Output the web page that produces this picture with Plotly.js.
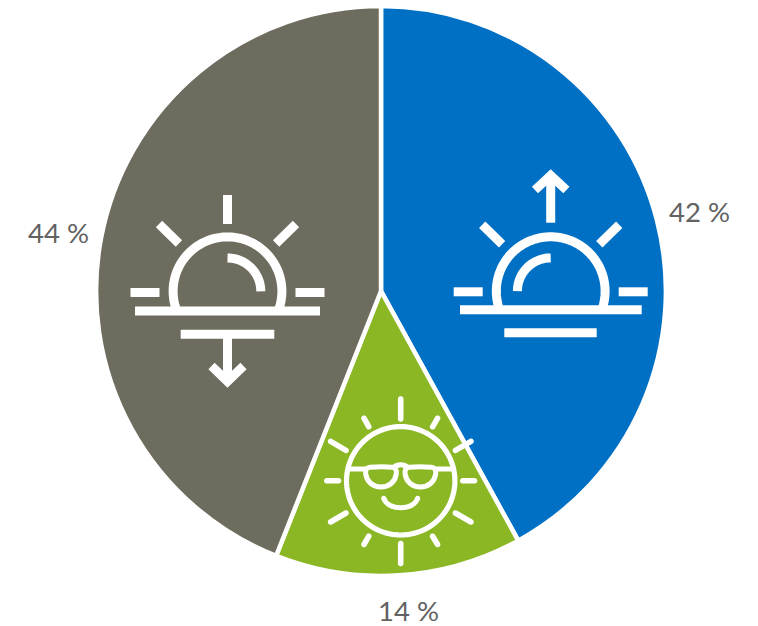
<!DOCTYPE html>
<html>
<head>
<meta charset="utf-8">
<script src="https://cdn.plot.ly/plotly-3.0.1.min.js"></script>
<style>html,body{margin:0;padding:0;background:#fff}#chart{width:758px;height:626px}</style>
</head>
<body>
<div id="chart"></div>
<script>
// Slice shares, clockwise from twelve o'clock
const categories = ['Sunrise', 'Midday', 'Sunset'];
const shares = [42, 14, 44];
const sliceColors = ['#0070C4', '#8AB723', '#6E6C5E'];
const labelCentres = [[699, 212], [408, 610], [58.5, 232.5]];

const W = 758, H = 626;
const CX = 381, CY = 291, R = 284.9;
const WHITE = '#ffffff';

// Pixel position to paper fractions
const px = x => (x / W).toFixed(5);
const py = y => (1 - y / H).toFixed(5);
const pt = ([x, y]) => px(x) + ',' + py(y);

const stroke = (d, width) => ({
  type: 'path', xref: 'paper', yref: 'paper', layer: 'above', path: d,
  line: { color: WHITE, width: width }, fillcolor: 'rgba(0,0,0,0)'
});
const polyline = (pts, width) => stroke('M' + pts.map(pt).join('L'), width);

function arcPoints(cx, cy, r, fromDeg, toDeg) {
  const pts = [], n = Math.max(12, Math.round(Math.abs(toDeg - fromDeg) / 3));
  for (let i = 0; i <= n; i++) {
    const a = (fromDeg + (toDeg - fromDeg) * i / n) * Math.PI / 180;
    pts.push([cx + r * Math.cos(a), cy + r * Math.sin(a)]);
  }
  return pts;
}

// Filled bar with semicircular ends, for the rays of the smiling sun
function capsule(x1, y1, x2, y2, w) {
  const base = Math.atan2(y2 - y1, x2 - x1) * 180 / Math.PI;
  const pts = arcPoints(x2, y2, w / 2, base - 90, base + 90)
    .concat(arcPoints(x1, y1, w / 2, base + 90, base + 270));
  return {
    type: 'path', xref: 'paper', yref: 'paper', layer: 'above',
    path: 'M' + pts.map(pt).join('L') + 'Z',
    line: { width: 0 }, fillcolor: WHITE
  };
}

// Half-sun over a horizon; the arrow is added per icon
const T = 9;
function horizonIcon(o) {
  const s = [];
  const seg = (a, b) => s.push(polyline([a, b], T));
  seg([o.cx - 68.5, o.diagTop], [o.cx - 48.6, o.diagTop + 19.5]);
  seg([o.cx + 68.5, o.diagTop], [o.cx + 48.6, o.diagTop + 19.5]);
  seg([o.cx - 97, o.sideY], [o.cx - 68, o.sideY]);
  seg([o.cx + 68, o.sideY], [o.cx + 97, o.sideY]);
  seg([o.baseL, o.baseY], [o.baseR, o.baseY]);
  seg([o.barL, o.barY], [o.barR, o.barY]);
  s.push(polyline(arcPoints(o.cx, o.domeY, 54.4, 160, 380), T));
  s.push(polyline(arcPoints(o.cx, o.domeY, 33.3, o.hiFrom, o.hiTo), T));
  return s;
}

const sunsetIcon = horizonIcon({
  cx: 227.5, diagTop: 224, sideY: 292.5, baseL: 135, baseR: 320, baseY: 311,
  barL: 180.7, barR: 274.3, barY: 334.3, domeY: 291.3, hiFrom: -90, hiTo: 0
});
sunsetIcon.push(polyline([[227.5, 195], [227.5, 224]], T));
sunsetIcon.push(polyline([[227.5, 338], [227.5, 380]], T));
sunsetIcon.push(polyline([[211.5, 366], [227.5, 381.5], [243.5, 366]], T));

const sunriseIcon = horizonIcon({
  cx: 550.7, diagTop: 224.7, sideY: 291.8, baseL: 460, baseR: 641.7, baseY: 309.7,
  barL: 504.3, barR: 596.7, barY: 332.7, domeY: 291.2, hiFrom: -180, hiTo: -90
});
sunriseIcon.push(polyline([[550.7, 176], [550.7, 222.7]], T));
sunriseIcon.push(polyline([[535, 190], [550.7, 175.5], [566.4, 190]], T));

// Smiling sun wearing glasses
const SX = 400.7, SY = 480.8;
const rays = [
  [SX, 399, SX, 419], [SX, 543.5, SX, 563.5],
  [326.8, SY, 338.5, SY], [462.8, SY, 474.5, SY],
  [330.6, 441.3, 346, 450.4], [471, 441.3, 455.4, 450.4],
  [330.6, 522, 346, 513], [471, 522, 455.4, 513],
  [364, 418.2, 368.8, 426.8], [437.6, 418.2, 432.6, 426.8],
  [364, 544.5, 368.8, 536.2], [437.6, 544.5, 432.6, 536.2]
];
const lens = mirrored => {
  const c = (a, b) => pt([mirrored ? 2 * SX - a : a, b]);
  return stroke('M' + c(370, 467.3) +
    'C' + c(378, 466.5) + ' ' + c(386, 466.5) + ' ' + c(392, 467.3) +
    'C' + c(396, 467.8) + ' ' + c(396.8, 471) + ' ' + c(396.3, 474) +
    'C' + c(395, 482) + ' ' + c(389, 487) + ' ' + c(381, 487) +
    'C' + c(373, 487) + ' ' + c(367, 482) + ' ' + c(365.7, 474) +
    'C' + c(365.2, 471) + ' ' + c(366, 467.8) + ' ' + c(370, 467.3) + 'Z', 5);
};
const coolSunIcon = [
  polyline(arcPoints(SX, SY, 54.2, 0, 360), 5.2),
  ...rays.map(r => capsule(r[0], r[1], r[2], r[3], 5.6)),
  polyline([[348, 469], [366, 469]], 5),
  polyline([[435.4, 469], [453.4, 469]], 5),
  lens(false), lens(true),
  stroke('M' + pt([393, 468]) + 'C' + pt([397, 463.5]) + ' ' + pt([404.4, 463.5]) + ' ' + pt([408.4, 468]), 5),
  stroke('M' + pt([383.7, 498.3]) + 'C' + pt([388, 511]) + ' ' + pt([413.4, 511]) + ' ' + pt([417.7, 498.3]), 5),
  capsule(383.7, 498.3, 383.8, 498.3, 5),
  capsule(417.6, 498.3, 417.7, 498.3, 5)
];

const trace = {
  type: 'pie',
  labels: categories,
  values: shares,
  sort: false,
  direction: 'clockwise',
  rotation: 0,
  textinfo: 'none',
  hoverinfo: 'none',
  marker: { colors: sliceColors, line: { color: WHITE, width: 4.5 } },
  domain: { x: [(CX - R) / W, (CX + R) / W], y: [1 - (CY + R) / H, 1 - (CY - R) / H] }
};

const layout = {
  width: W, height: H,
  margin: { l: 0, r: 0, t: 0, b: 0 },
  paper_bgcolor: WHITE,
  showlegend: false,
  shapes: [...sunsetIcon, ...sunriseIcon, ...coolSunIcon],
  annotations: shares.map((v, i) => ({
    xref: 'paper', yref: 'paper',
    x: labelCentres[i][0] / W, y: 1 - labelCentres[i][1] / H,
    xanchor: 'center', yanchor: 'middle', showarrow: false,
    text: v + ' %',
    font: { family: 'Lato, Open Sans, sans-serif', size: 27.5, color: '#626262' }
  }))
};

Plotly.newPlot('chart', [trace], layout, { displayModeBar: false, responsive: false });
</script>
</body>
</html>
